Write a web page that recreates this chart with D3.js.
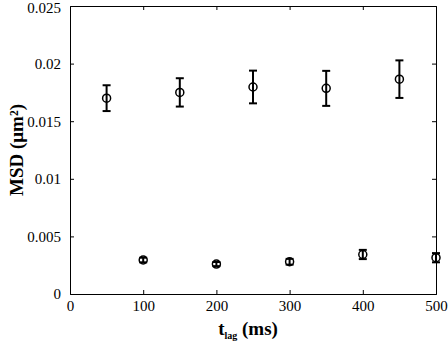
<!DOCTYPE html>
<html>
<head>
<meta charset="utf-8">
<script src="https://cdn.jsdelivr.net/npm/d3@7"></script>
<style>
  body { margin: 0; background: #fff; }
</style>
</head>
<body>
<div id="chart"></div>
<script>
// upper series (t_lag = 50..450 ms)
const lagsA = [50, 150, 250, 350, 450];
const msdA = [0.0170, 0.01750, 0.01797, 0.01785, 0.01865];
const errA = [0.00112, 0.00123, 0.00142, 0.00152, 0.00163];

// lower series (t_lag = 100..500 ms)
const lagsB = [100, 200, 300, 400, 500];
const msdB = [0.00295, 0.00260, 0.00280, 0.00343, 0.00315];
const errB = [0.00020, 0.00018, 0.00025, 0.00040, 0.00040];

const xTicks = [0, 100, 200, 300, 400, 500];
const yTicks = [0, 0.005, 0.01, 0.015, 0.02, 0.025];

const W = 448, H = 345;
const margin = { top: 6, right: 12, bottom: 51, left: 70 };
const iw = W - margin.left - margin.right;
const ih = H - margin.top - margin.bottom;
const serif = "Liberation Serif";

const svg = d3.select("#chart").append("svg")
    .attr("width", W)
    .attr("height", H)
    .attr("font-family", serif);

const g = svg.append("g")
    .attr("transform", `translate(${margin.left},${margin.top})`);

const x = d3.scaleLinear().domain([0, 500]).range([0, iw]);
const y = d3.scaleLinear().domain([0, 0.025]).range([ih, 0]);

const fmtY = d => d === 0 ? "0" : String(+d.toFixed(3));

// axes, ticks pointing inward (matlab style box)
g.append("g")
    .attr("transform", `translate(0,${ih})`)
    .call(d3.axisBottom(x).tickValues(xTicks).tickSize(-4).tickPadding(6));
g.append("g")
    .call(d3.axisTop(x).tickValues(xTicks).tickSize(-4).tickFormat(""));
g.append("g")
    .call(d3.axisLeft(y).tickValues(yTicks).tickSize(-4).tickPadding(9).tickFormat(fmtY));
g.append("g")
    .attr("transform", `translate(${iw},0)`)
    .call(d3.axisRight(y).tickValues(yTicks).tickSize(-4).tickFormat(""));

g.selectAll("g").attr("font-family", serif).attr("font-size", 15);
g.selectAll(".tick text").attr("fill", "#000");
g.selectAll(".domain").attr("stroke", "#000").attr("stroke-width", 1);
g.selectAll(".tick line").attr("stroke", "#000");
// remove end ticks on the box edges
g.selectAll(".tick").filter(d => d === 0 || d === 500 || d === 0.025)
    .select("line").remove();
// keep top label inside the window
g.selectAll(".tick").filter(d => d === 0.025).select("text").attr("dy", "0.45em");

// data
const ptsA = lagsA.map((t, i) => ({ t, v: msdA[i], e: errA[i] }));
const ptsB = lagsB.map((t, i) => ({ t, v: msdB[i], e: errB[i] }));

function drawSeries(pts) {
    const grp = g.append("g");
    const eb = grp.selectAll(".eb").data(pts).enter().append("g");
    eb.append("line")
        .attr("x1", d => x(d.t)).attr("x2", d => x(d.t))
        .attr("y1", d => y(d.v + d.e)).attr("y2", d => y(d.v - d.e))
        .attr("stroke", "#000").attr("stroke-width", 2);
    [1, -1].forEach(s => {
        eb.append("line")
            .attr("x1", d => x(d.t) - 4).attr("x2", d => x(d.t) + 4)
            .attr("y1", d => y(d.v + s * d.e)).attr("y2", d => y(d.v + s * d.e))
            .attr("stroke", "#000").attr("stroke-width", 2);
    });
    grp.selectAll("circle").data(pts).enter().append("circle")
        .attr("cx", d => x(d.t))
        .attr("cy", d => y(d.v))
        .attr("r", 4)
        .attr("fill", "none")
        .attr("stroke", "#000")
        .attr("stroke-width", 1.5);
}
drawSeries(ptsA);
drawSeries(ptsB);

// axis labels
const xl = svg.append("text")
    .attr("x", 248)
    .attr("y", 335)
    .attr("text-anchor", "middle")
    .attr("font-size", "19px")
    .attr("font-weight", "bold");
xl.append("tspan").text("t");
xl.append("tspan").text("lag").attr("font-size", "10px").attr("dy", 4);
xl.append("tspan").text(" (ms)").attr("dy", -4);

svg.append("text")
    .attr("transform", `translate(23,${margin.top + ih / 2}) rotate(-90)`)
    .attr("text-anchor", "middle")
    .attr("font-size", "19px")
    .attr("font-weight", "bold")
    .text("MSD  (μm²)");
</script>
</body>
</html>
